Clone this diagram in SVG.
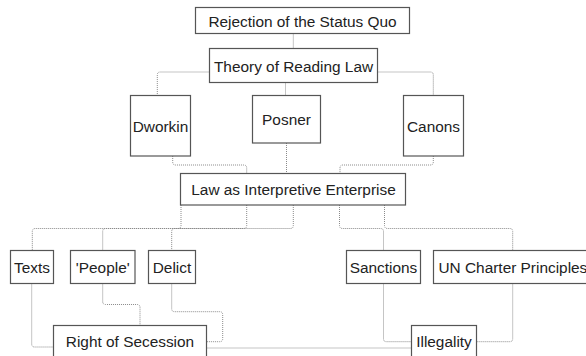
<svg xmlns="http://www.w3.org/2000/svg" width="586" height="356" viewBox="0 0 586 356">
<style>
.box{fill:#fff;stroke:#555;stroke-width:1.2}
.lbl{font-family:"Liberation Sans",Arial,sans-serif;font-size:15.4px;fill:#222;text-anchor:middle}
.st{text-anchor:start}
.con path{fill:none;stroke:#8a8a8a;stroke-width:1;stroke-dasharray:1 1}
</style>
<rect width="586" height="356" fill="#fff"/>
<g class="con" id="connectors">
<path d="M293.3,33.5 V48.5"/>
<path d="M209.5,72 H160.3 Q157.3,72 157.3,75 V95.5"/>
<path d="M377.5,72 H430.3 Q433.3,72 433.3,75 V95.5"/>
<path d="M285.5,82.5 V95.5"/>
<path d="M172.7,156 V162 Q172.7,165 175.7,165 H243.7 Q246.7,165 246.7,168 V173.5"/>
<path d="M286.5,143 V173.5"/>
<path d="M433.3,156 V162 Q433.3,165 430.3,165 H343 Q340,165 340,168 V173.5"/>
<path d="M181,205 V225.5 Q181,228.5 178,228.5 H35.3 Q32.3,228.5 32.3,231.5 V250.5"/>
<path d="M246.7,205 V225.5 Q246.7,228.5 243.7,228.5 H105.7 Q102.7,228.5 102.7,231.5 V250.5"/>
<path d="M293.3,205 V225.5 Q293.3,228.5 290.3,228.5 H174.7 Q171.7,228.5 171.7,231.5 V250.5"/>
<path d="M339.5,205 V225.5 Q339.5,228.5 342.5,228.5 H380.5 Q383.5,228.5 383.5,231.5 V250.5"/>
<path d="M384.5,205 V225.5 Q384.5,228.5 387.5,228.5 H509.7 Q512.7,228.5 512.7,231.5 V250.5"/>
<path d="M31.7,283.5 V344 Q31.7,347 34.7,347 H53.5"/>
<path d="M102.7,283.5 V301.5 Q102.7,304.5 105.7,304.5 H137 Q140,304.5 140,307.5 V325.5"/>
<path d="M171.7,283.5 V308.7 Q171.7,311.7 174.7,311.7 H219.7 Q222.7,311.7 222.7,314.7 V338.7 Q222.7,341.7 219.7,341.7 H206.5"/>
<path d="M383.5,283.5 V338.7 Q383.5,341.7 386.5,341.7 H411.5"/>
<path d="M512.7,283.5 V338.7 Q512.7,341.7 509.7,341.7 H476.5"/>
<path d="M206.5,348 H411.5"/>
</g>
<g id="rejection"><rect class="box" x="195.5" y="7.5" width="214" height="26"/><text class="lbl" x="302.5" y="26.5">Rejection of the Status Quo</text></g>
<g id="theory"><rect class="box" x="209.5" y="48.5" width="168" height="34"/><text class="lbl" x="293.5" y="71.5">Theory of Reading Law</text></g>
<g id="dworkin"><rect class="box" x="130.5" y="95.5" width="60" height="60.5"/><text class="lbl" x="160.5" y="131.5">Dworkin</text></g>
<g id="posner"><rect class="box" x="252.5" y="95.5" width="68" height="47.5"/><text class="lbl" x="286.5" y="125">Posner</text></g>
<g id="canons"><rect class="box" x="403.5" y="95.5" width="60" height="60.5"/><text class="lbl" x="433.5" y="131.5">Canons</text></g>
<g id="law"><rect class="box" x="180.5" y="173.5" width="225" height="31.5"/><text class="lbl" x="293.5" y="195">Law as Interpretive Enterprise</text></g>
<g id="texts"><rect class="box" x="10.5" y="250.5" width="43" height="33"/><text class="lbl" x="32" y="272.5">Texts</text></g>
<g id="people"><rect class="box" x="70.5" y="250.5" width="64.5" height="33"/><text class="lbl" x="102.75" y="272.5">'People'</text></g>
<g id="delict"><rect class="box" x="148.5" y="250.5" width="47" height="33"/><text class="lbl" x="172" y="272.5">Delict</text></g>
<g id="sanctions"><rect class="box" x="346.5" y="250.5" width="74" height="33"/><text class="lbl" x="383.5" y="272.5">Sanctions</text></g>
<g id="uncharter"><rect class="box" x="433.5" y="250.5" width="160" height="33"/><text class="lbl st" x="438.5" y="272.5">UN Charter Principles</text></g>
<g id="secession"><rect class="box" x="53.5" y="325.5" width="153" height="34"/><text class="lbl" x="130" y="346.5">Right of Secession</text></g>
<g id="illegality"><rect class="box" x="411.5" y="325.5" width="65" height="34"/><text class="lbl" x="444" y="346.5">Illegality</text></g>
</svg>
